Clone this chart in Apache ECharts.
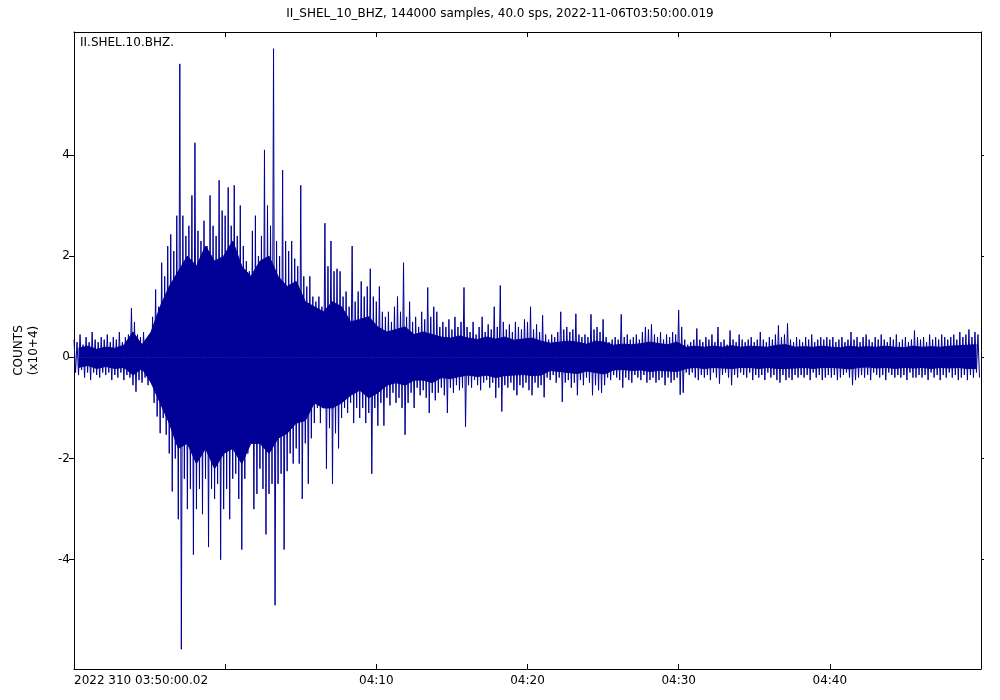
<!DOCTYPE html>
<html><head><meta charset="utf-8">
<script src="https://cdn.jsdelivr.net/npm/echarts@6/dist/echarts.min.js"></script>
<style>html,body{margin:0;padding:0;background:#fff}#c{width:1000px;height:700px}</style>
</head><body><div id="c"></div>
<script>
const TITLE = 'II_SHEL_10_BHZ, 144000 samples, 40.0 sps, 2022-11-06T03:50:00.019';
const TRACE_LABEL = 'II.SHEL.10.BHZ.';
const Y_NAME = 'COUNTS\n(x10+4)';
const DURATION_S = 3600;
const BIN_S = 12;      // envelope bin width in seconds
const CORE_BIN_S = 36; // core-band bin width in seconds

// per-bin maximum of the trace, in units of 1e4 counts
const envMax = [
0.35,0.30,0.45,0.25,0.40,0.30,0.50,0.35,0.30,0.40,
0.35,0.45,0.30,0.40,0.35,0.50,0.30,0.40,0.45,0.97,
0.70,0.45,0.40,0.50,0.35,0.45,0.80,1.34,1.00,1.87,
1.60,2.20,2.43,2.10,2.80,5.80,2.80,2.40,2.60,3.20,
4.24,2.50,2.30,2.70,2.20,3.20,2.60,2.40,3.50,2.90,
2.80,3.36,2.60,3.40,2.40,3.00,2.20,1.90,1.70,2.50,
2.80,2.00,2.40,4.10,3.00,2.60,6.10,2.30,2.00,3.70,
2.30,2.10,2.30,1.95,1.80,3.40,1.60,1.40,1.60,1.20,
1.10,1.20,1.00,2.65,1.80,2.30,1.70,1.75,1.70,1.20,
1.30,1.00,2.20,1.10,1.30,1.50,1.20,1.40,1.75,1.20,
1.10,1.40,0.90,0.80,0.90,0.70,1.00,1.20,0.90,1.87,
0.80,1.10,0.70,0.80,0.60,0.90,0.75,1.38,0.80,1.00,
0.90,0.60,0.70,0.60,0.75,0.55,0.80,0.60,0.70,1.38,
0.60,0.50,0.70,0.45,0.60,0.80,0.50,0.65,0.55,1.00,
0.60,1.42,0.70,0.55,0.65,0.50,0.70,0.60,0.55,0.75,
0.70,1.00,0.55,0.65,0.50,0.83,0.45,0.35,0.45,0.40,
0.50,0.90,0.55,0.60,0.50,0.55,0.86,0.45,0.40,0.45,
0.40,0.85,0.55,0.60,0.50,0.75,0.40,0.30,0.35,0.40,
0.35,0.85,0.40,0.45,0.35,0.40,0.45,0.35,0.50,0.60,
0.55,0.65,0.45,0.40,0.50,0.35,0.45,0.40,0.50,0.45,
0.93,0.60,0.35,0.25,0.30,0.35,0.57,0.35,0.30,0.40,
0.35,0.45,0.30,0.60,0.30,0.35,0.25,0.53,0.35,0.30,
0.45,0.35,0.30,0.35,0.40,0.30,0.35,0.50,0.35,0.30,
0.40,0.35,0.45,0.63,0.40,0.45,0.67,0.35,0.30,0.40,
0.35,0.30,0.40,0.35,0.45,0.30,0.35,0.40,0.35,0.40,
0.35,0.40,0.30,0.35,0.40,0.30,0.35,0.50,0.35,0.40,
0.30,0.40,0.45,0.35,0.30,0.40,0.35,0.45,0.35,0.30,
0.40,0.35,0.45,0.30,0.35,0.40,0.30,0.35,0.53,0.40,
0.35,0.40,0.30,0.45,0.35,0.40,0.35,0.45,0.40,0.35,
0.40,0.45,0.35,0.50,0.40,0.45,0.55,0.40,0.50,0.45
];
// per-bin minimum of the trace, in units of 1e4 counts
const envMin = [
-0.30,-0.35,-0.25,-0.40,-0.30,-0.45,-0.30,-0.35,-0.40,-0.30,
-0.35,-0.30,-0.45,-0.35,-0.40,-0.30,-0.45,-0.35,-0.40,-0.55,
-0.68,-0.45,-0.50,-0.40,-0.55,-0.50,-0.90,-1.17,-1.50,-1.20,
-1.53,-1.90,-2.65,-2.00,-3.20,-5.77,-2.40,-3.00,-2.60,-3.90,
-3.00,-2.60,-3.10,-2.40,-3.75,-2.60,-2.80,-2.50,-4.00,-3.00,
-2.60,-3.20,-2.40,-2.30,-2.80,-3.80,-2.40,-1.90,-1.60,-3.00,
-2.70,-2.20,-2.60,-3.50,-2.70,-2.50,-4.90,-2.50,-2.30,-3.80,
-2.25,-1.90,-2.10,-1.80,-2.10,-2.80,-1.70,-2.50,-1.60,-1.30,
-1.00,-1.30,-0.90,-2.20,-1.40,-2.50,-1.50,-1.80,-1.20,-1.00,
-1.10,-0.90,-1.30,-1.00,-1.20,-1.00,-1.30,-1.10,-2.30,-1.00,
-1.35,-0.90,-1.35,-0.80,-0.95,-0.70,-0.90,-0.80,-1.00,-1.53,
-0.90,-0.70,-1.00,-0.60,-0.75,-0.65,-0.80,-1.10,-0.70,-0.85,
-0.70,-0.60,-0.75,-1.10,-0.60,-0.70,-0.55,-0.65,-0.60,-1.37,
-0.55,-0.60,-0.45,-0.55,-0.65,-0.50,-0.45,-0.60,-0.50,-0.80,
-0.60,-1.07,-0.55,-0.60,-0.50,-0.65,-0.75,-0.55,-0.60,-0.50,
-0.65,-0.75,-0.50,-0.60,-0.55,-0.79,-0.40,-0.45,-0.35,-0.50,
-0.40,-0.88,-0.50,-0.45,-0.60,-0.50,-0.75,-0.45,-0.55,-0.40,
-0.50,-0.75,-0.55,-0.65,-0.70,-0.55,-0.40,-0.45,-0.35,-0.40,
-0.45,-0.60,-0.40,-0.45,-0.50,-0.35,-0.40,-0.45,-0.35,-0.50,
-0.45,-0.40,-0.50,-0.45,-0.40,-0.55,-0.40,-0.50,-0.45,-0.40,
-0.74,-0.70,-0.30,-0.35,-0.30,-0.40,-0.45,-0.35,-0.40,-0.35,
-0.45,-0.30,-0.40,-0.52,-0.35,-0.30,-0.40,-0.55,-0.35,-0.40,
-0.30,-0.35,-0.40,-0.30,-0.45,-0.35,-0.40,-0.35,-0.45,-0.30,
-0.40,-0.35,-0.45,-0.50,-0.35,-0.45,-0.40,-0.45,-0.35,-0.40,
-0.35,-0.40,-0.35,-0.45,-0.30,-0.40,-0.35,-0.45,-0.40,-0.35,
-0.40,-0.35,-0.45,-0.40,-0.35,-0.30,-0.40,-0.55,-0.45,-0.40,
-0.35,-0.40,-0.35,-0.45,-0.30,-0.35,-0.40,-0.35,-0.45,-0.30,
-0.35,-0.40,-0.35,-0.40,-0.35,-0.45,-0.30,-0.40,-0.40,-0.35,
-0.40,-0.35,-0.45,-0.30,-0.40,-0.35,-0.45,-0.35,-0.40,-0.30,
-0.40,-0.35,-0.45,-0.40,-0.35,-0.45,-0.35,-0.40,-0.30,-0.40
];
// top of the densely filled core of the trace, per 36 s, in 1e4 counts
const coreUp = [
0.18,0.22,0.16,0.20,0.18,0.24,0.50,0.25,0.50,1.00,
1.40,1.70,2.00,1.80,2.20,1.90,2.00,2.30,1.80,1.60,
1.90,2.00,1.60,1.40,1.50,1.10,1.00,0.90,1.10,1.00,
0.70,0.75,0.80,0.60,0.50,0.55,0.60,0.45,0.50,0.45,
0.40,0.38,0.42,0.38,0.35,0.40,0.36,0.40,0.34,0.36,
0.38,0.32,0.28,0.30,0.32,0.30,0.26,0.32,0.30,0.24,
0.26,0.25,0.27,0.30,0.27,0.25,0.30,0.20,0.22,0.20,
0.22,0.20,0.23,0.20,0.22,0.21,0.20,0.24,0.25,0.20,
0.21,0.20,0.22,0.20,0.19,0.22,0.20,0.21,0.20,0.22,
0.20,0.19,0.22,0.20,0.21,0.20,0.22,0.23,0.24,0.25
];
// bottom of the densely filled core of the trace, per 36 s, in 1e4 counts
const coreDown = [
-0.20,-0.16,-0.22,-0.18,-0.22,-0.20,-0.35,-0.22,-0.50,-0.90,
-1.30,-1.80,-1.70,-2.10,-1.80,-2.20,-1.90,-1.80,-2.10,-1.70,
-1.70,-1.90,-1.60,-1.50,-1.30,-1.25,-0.90,-1.00,-1.00,-0.90,
-0.75,-0.65,-0.80,-0.70,-0.55,-0.50,-0.55,-0.45,-0.45,-0.50,
-0.40,-0.42,-0.38,-0.35,-0.38,-0.35,-0.40,-0.36,-0.35,-0.34,
-0.36,-0.35,-0.26,-0.28,-0.30,-0.32,-0.27,-0.30,-0.33,-0.25,
-0.24,-0.26,-0.25,-0.28,-0.26,-0.27,-0.28,-0.22,-0.20,-0.22,
-0.20,-0.21,-0.22,-0.20,-0.20,-0.22,-0.20,-0.22,-0.22,-0.21,
-0.20,-0.22,-0.20,-0.20,-0.21,-0.23,-0.20,-0.19,-0.21,-0.20,
-0.22,-0.20,-0.21,-0.20,-0.22,-0.20,-0.21,-0.20,-0.22,-0.22
];

const xTickValues = [600, 1200, 1800, 2400, 3000];
const xLabelValues = [0, 1200, 1800, 2400, 3000];
const xLabelTexts = ['2022 310 03:50:00.02', '04:10', '04:20', '04:30', '04:40'];
const yTickValues = [-4, -2, 0, 2, 4];
const yLabelTexts = ['-4', '-2', '0', '2', '4'];
const Y_MIN = -6.16, Y_MAX = 6.43;

const traceData = [];
for (let i = 0; i < envMax.length; i++) {
  traceData.push([i * BIN_S, envMax[i]]);
  traceData.push([i * BIN_S + BIN_S / 2, envMin[i]]);
}
const coreUpData = coreUp.map((a, k) => [k * CORE_BIN_S + CORE_BIN_S / 2, a]);
const coreDownData = coreDown.map((a, k) => [k * CORE_BIN_S + CORE_BIN_S / 2, a]);

const FONT = 'DejaVu Sans';
const BLUE = '#000096';
const chart = echarts.init(document.getElementById('c'), null, {renderer: 'canvas'});
const axisLineStyle = {show: true, onZero: false, lineStyle: {color: '#000', width: 1}};
const coreSeries = (data) => ({
  type: 'line', xAxisIndex: 0, yAxisIndex: 0, data, showSymbol: false, symbol: 'none',
  lineStyle: {color: BLUE, width: 1}, areaStyle: {color: BLUE, opacity: 1, origin: 0},
  silent: true, z: 1
});
chart.setOption({
  animation: false,
  backgroundColor: '#fff',
  textStyle: {fontFamily: FONT},
  title: [
    {text: TITLE, left: 'center', top: 3, textStyle: {fontFamily: FONT, fontSize: 12, fontWeight: 'normal', color: '#000'}},
    {text: TRACE_LABEL, left: 75, top: 32, textStyle: {fontFamily: FONT, fontSize: 12, fontWeight: 'normal', color: '#000'}}
  ],
  grid: {left: 74, right: 19, top: 32, bottom: 31, containLabel: false},
  xAxis: [
    {
      type: 'value', min: 0, max: DURATION_S, position: 'bottom',
      axisLine: axisLineStyle, splitLine: {show: false},
      axisTick: {show: true, inside: true, length: 5, customValues: xTickValues, lineStyle: {color: '#000'}},
      axisLabel: {show: true, customValues: xLabelValues, alignMinLabel: 'left', margin: 6,
        fontFamily: FONT, fontSize: 12, color: '#000',
        formatter: v => { const k = xLabelValues.indexOf(v); return k >= 0 ? xLabelTexts[k] : ''; }}
    },
    {
      type: 'value', min: 0, max: DURATION_S, position: 'top',
      axisLine: axisLineStyle, splitLine: {show: false},
      axisTick: {show: true, inside: true, length: 5, customValues: xTickValues, lineStyle: {color: '#000'}},
      axisLabel: {show: false}
    }
  ],
  yAxis: [
    {
      type: 'value', min: Y_MIN, max: Y_MAX, position: 'left',
      name: Y_NAME, nameLocation: 'middle', nameRotate: 90, nameGap: 33,
      nameTextStyle: {fontFamily: FONT, fontSize: 12, color: '#000', lineHeight: 15},
      axisLine: axisLineStyle, splitLine: {show: false},
      axisTick: {show: true, inside: false, length: 5, customValues: yTickValues, lineStyle: {color: '#000'}},
      axisLabel: {show: true, customValues: yTickValues, margin: 4, fontFamily: FONT, fontSize: 12, color: '#000',
        formatter: v => { const k = yTickValues.indexOf(v); return k >= 0 ? yLabelTexts[k] : ''; }}
    },
    {
      type: 'value', min: Y_MIN, max: Y_MAX, position: 'right',
      axisLine: axisLineStyle, splitLine: {show: false},
      axisTick: {show: true, inside: false, length: 3, customValues: yTickValues, lineStyle: {color: '#000'}},
      axisLabel: {show: false}
    }
  ],
  series: [
    coreSeries(coreUpData),
    coreSeries(coreDownData),
    {
      type: 'line', xAxisIndex: 0, yAxisIndex: 0,
      data: traceData, showSymbol: false, symbol: 'none', sampling: null,
      lineStyle: {color: BLUE, width: 1}, silent: true, z: 2
    }
  ]
});
</script></body></html>
